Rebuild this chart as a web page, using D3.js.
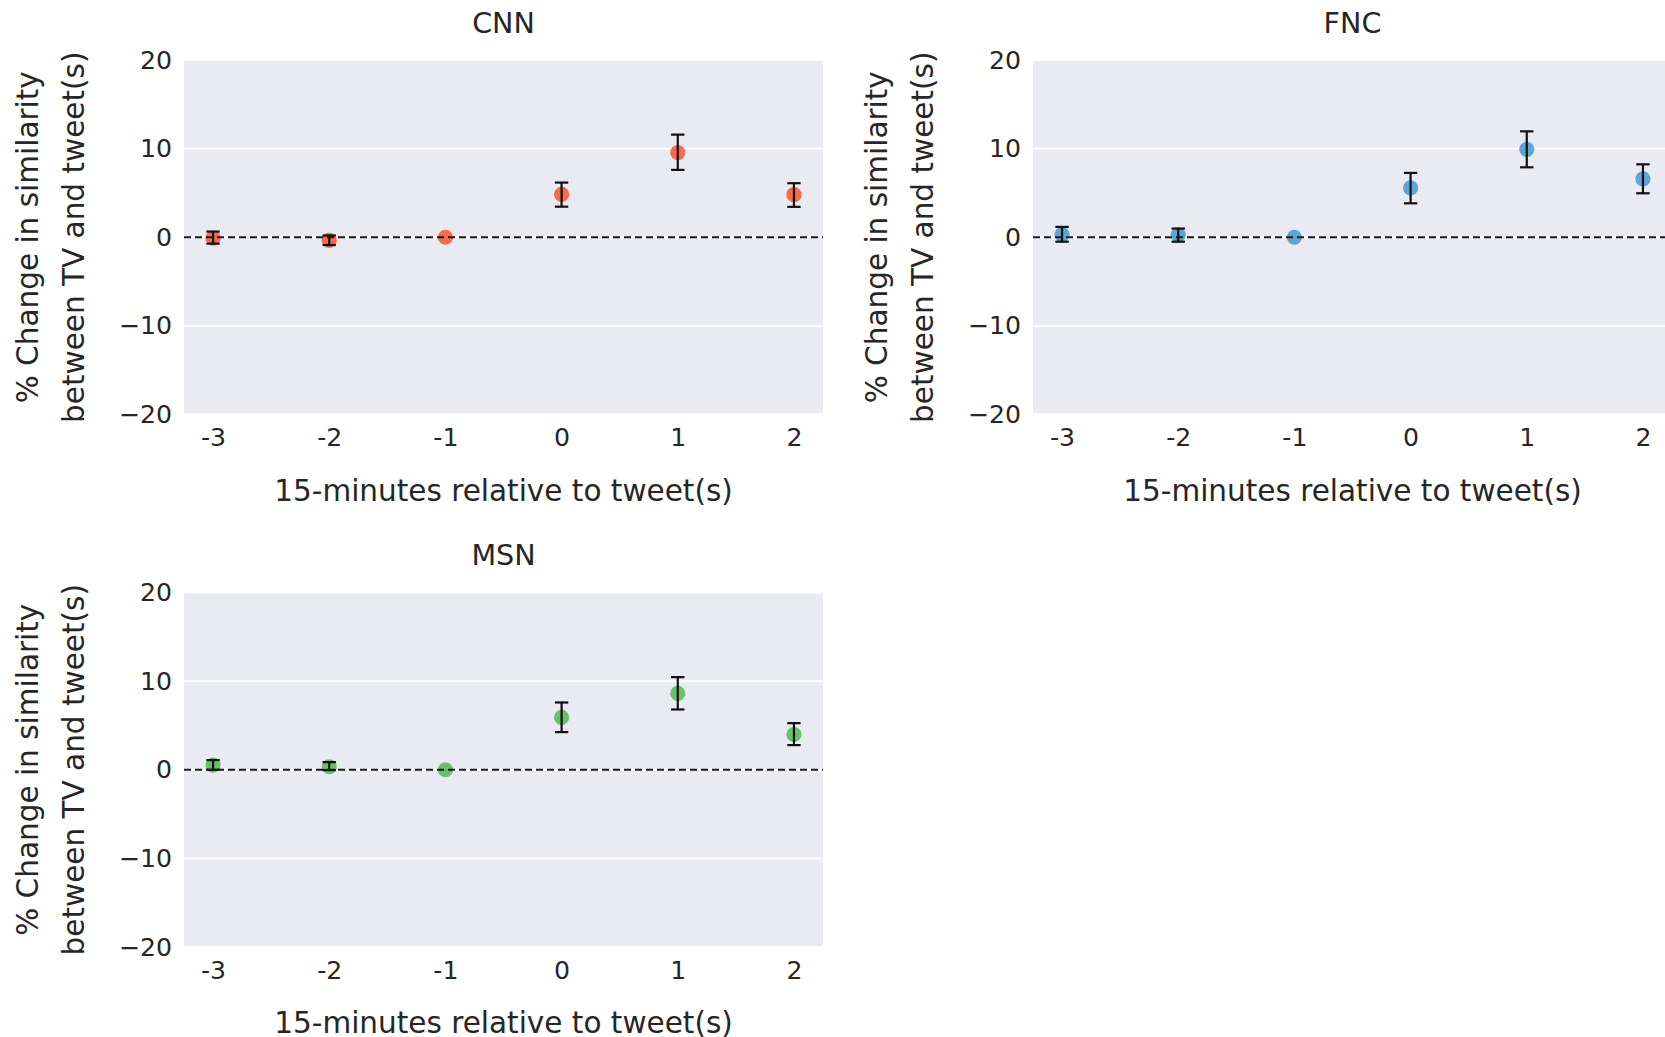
<!DOCTYPE html>
<html>
<head>
<meta charset="utf-8">
<script src="https://cdn.jsdelivr.net/npm/d3@7"></script>
<style>
  html, body { margin: 0; padding: 0; background: #ffffff; }
  svg text { font-family: "DejaVu Sans", sans-serif; fill: #262626; }
</style>
</head>
<body>
<svg id="chart" width="1665" height="1037"></svg>
<script>
// ---- data ----
const categories = ["-3", "-2", "-1", "0", "1", "2"];
const yTicks = [-20, -10, 0, 10, 20];

const cnnMean = [-0.1, -0.35, 0, 4.85, 9.55, 4.8];
const cnnLow  = [-0.72, -0.88, 0, 3.45, 7.6, 3.43];
const cnnHigh = [0.64, 0.2, 0, 6.17, 11.58, 6.1];

const fncMean = [0.3, 0.27, 0, 5.56, 9.92, 6.58];
const fncLow  = [-0.5, -0.5, 0, 3.83, 7.89, 4.96];
const fncHigh = [1.17, 0.98, 0, 7.26, 11.95, 8.23];

const msnMean = [0.53, 0.34, 0, 5.9, 8.61, 3.98];
const msnLow  = [0.0, -0.04, 0, 4.25, 6.8, 2.78];
const msnHigh = [1.09, 0.86, 0, 7.59, 10.45, 5.26];

const panelTitles = ["CNN", "FNC", "MSN"];
const panelColors = ["#f9694c", "#5da5d5", "#6abf69"];
const xLabel = "15-minutes relative to tweet(s)";
const yLabelLines = ["% Change in similarity", "between TV and tweet(s)"];

// ---- layout ----
const panels = [
  { title: panelTitles[0], mean: cnnMean, low: cnnLow, high: cnnHigh, color: panelColors[0], left: 184, top: 60 },
  { title: panelTitles[1], mean: fncMean, low: fncLow, high: fncHigh, color: panelColors[1], left: 1033, top: 60 },
  { title: panelTitles[2], mean: msnMean, low: msnLow, high: msnHigh, color: panelColors[2], left: 184, top: 592.5 }
];
const W = 639, H = 354.5;

const svg = d3.select("#chart");

const fmt = v => (v < 0 ? "\u2212" + Math.abs(v) : String(v));

panels.forEach(p => {
  const g = svg.append("g").attr("transform", `translate(${p.left},${p.top})`);
  const x = d3.scalePoint().domain(categories).range([0, W]).padding(0.25);
  const y = d3.scaleLinear().domain([-20, 20]).range([H, 0]);

  // background
  g.append("rect").attr("x", 0).attr("y", 0).attr("width", W).attr("height", H).attr("fill", "#eaeaf2");

  // horizontal grid
  g.append("g").selectAll("line").data(yTicks).join("line")
    .attr("x1", 0).attr("x2", W)
    .attr("y1", d => y(d)).attr("y2", d => y(d))
    .attr("stroke", "#ffffff").attr("stroke-width", 1.8);

  // y axis (labels only)
  const yAxis = d3.axisLeft(y).tickValues(yTicks).tickSize(0).tickPadding(12).tickFormat(fmt);
  const ya = g.append("g").call(yAxis);
  ya.select(".domain").remove();
  ya.selectAll("text").style("font-size", "25.2px").attr("fill", "#262626");

  // x axis (labels only)
  const xAxis = d3.axisBottom(x).tickSize(0).tickPadding(14);
  const xa = g.append("g").attr("transform", `translate(0,${H})`).call(xAxis);
  xa.select(".domain").remove();
  xa.selectAll("text").style("font-size", "25.2px").attr("fill", "#262626");

  // markers
  g.append("g").selectAll("circle").data(categories).join("circle")
    .attr("cx", d => x(d))
    .attr("cy", (d, i) => y(p.mean[i]))
    .attr("r", 7.6)
    .attr("fill", p.color);

  // error bars
  const eb = g.append("g").attr("stroke", "#111").attr("stroke-width", 2.2);
  categories.forEach((c, i) => {
    if (p.high[i] === p.low[i]) return;
    const cx = x(c);
    eb.append("line").attr("x1", cx).attr("x2", cx).attr("y1", y(p.high[i])).attr("y2", y(p.low[i]));
    eb.append("line").attr("x1", cx - 6.7).attr("x2", cx + 6.7).attr("y1", y(p.high[i])).attr("y2", y(p.high[i]));
    eb.append("line").attr("x1", cx - 6.7).attr("x2", cx + 6.7).attr("y1", y(p.low[i])).attr("y2", y(p.low[i]));
  });

  // zero reference line
  g.append("line")
    .attr("x1", 0).attr("x2", W).attr("y1", y(0)).attr("y2", y(0))
    .attr("stroke", "#1a1a1a").attr("stroke-width", 2).attr("stroke-dasharray", "7,4");

  // title
  g.append("text").attr("x", W / 2).attr("y", -27.3).attr("text-anchor", "middle")
    .style("font-size", "28.6px").text(p.title);

  // x label
  g.append("text").attr("x", W / 2).attr("y", H + 86).attr("text-anchor", "middle")
    .style("font-size", "29.5px").text(xLabel);

  // y label (two lines)
  const yl = g.append("text")
    .attr("transform", `translate(${-184 + 37.5},${H / 2}) rotate(-90)`)
    .attr("text-anchor", "middle")
    .style("font-size", "29.5px");
  yl.append("tspan").attr("x", 0).attr("y", 0).text(yLabelLines[0]);
  yl.append("tspan").attr("x", 0).attr("y", 46.5).text(yLabelLines[1]);
});
</script>
</body>
</html>
